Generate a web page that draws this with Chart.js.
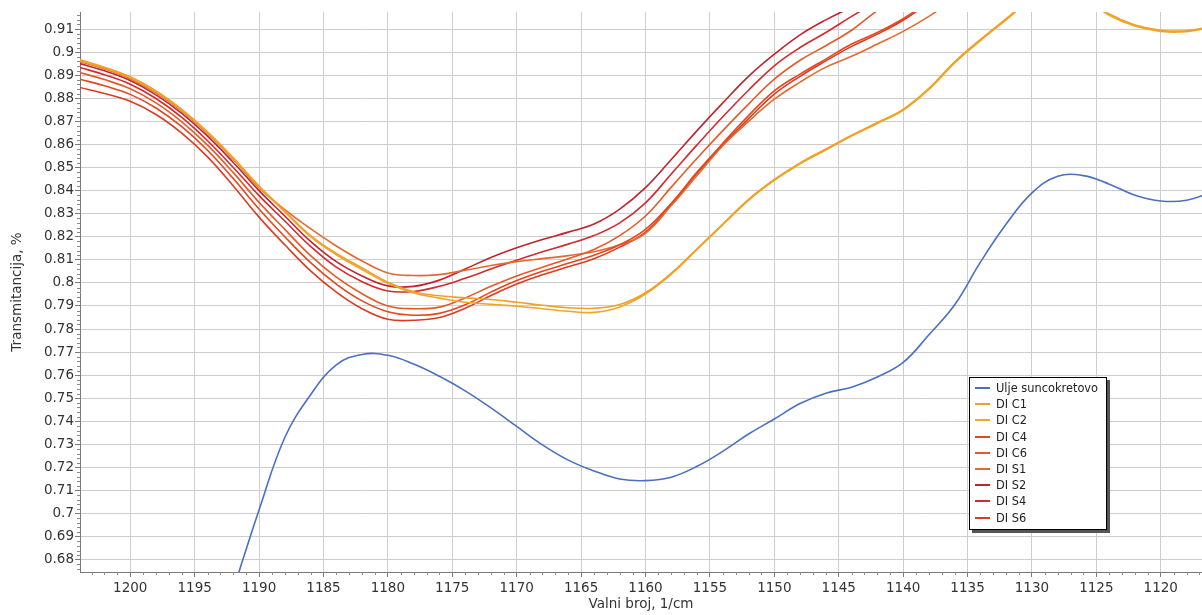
<!DOCTYPE html>
<html>
<head>
<meta charset="utf-8">
<script src="https://cdn.jsdelivr.net/npm/chart.js@4.4.1/dist/chart.umd.min.js"></script>
<style>
  html, body { margin: 0; padding: 0; background: #fff; }
  #wrap { position: relative; width: 1202px; height: 615px; }
  #legend {
    position: absolute; left: 969px; top: 377px; width: 136px;
    border: 1px solid #000; box-shadow: 3px 3px 0 #555; background: #fff;
    font: 11.4px "DejaVu Sans", sans-serif; color: #222; padding: 2px 0 3px 0;
  }
  #legend .item { height: 16.2px; display: flex; align-items: center; }
  #legend .sw { width: 15px; height: 2px; margin: 0 6px 0 5px; }
</style>
</head>
<body>
<div id="wrap">
  <canvas id="myChart" width="1202" height="615"></canvas>
  <div id="legend"></div>
</div>
<script>
// wavenumbers, 1/cm (x axis runs right to left)
var wavenumbers = [1204, 1202, 1200, 1198, 1196, 1194, 1192, 1190, 1188, 1186, 1184, 1182, 1180,
    1178, 1176, 1174, 1172, 1170, 1168, 1166, 1164, 1162, 1160, 1158, 1156, 1154, 1152, 1150,
    1148, 1146, 1144, 1142, 1140, 1138, 1136, 1134, 1132, 1130, 1128, 1126, 1124, 1122, 1120,
    1118, 1116];

var seriesNames = ['Ulje suncokretovo', 'DI C1', 'DI C2', 'DI C4', 'DI C6', 'DI S1', 'DI S2', 'DI S4', 'DI S6'];

var ulje = [null, null, null, null, null, 0.632, 0.667, 0.7016, 0.733, 0.7515, 0.7645, 0.769, 0.7686,
    0.7648, 0.7595, 0.7532, 0.7458, 0.7378, 0.7298, 0.7232, 0.7185, 0.715, 0.7143, 0.7158, 0.7205,
    0.727, 0.7345, 0.741, 0.7477, 0.7522, 0.7548, 0.7592, 0.7655, 0.7775, 0.7905, 0.809, 0.8255,
    0.839, 0.8462, 0.8465, 0.8428, 0.838, 0.8355, 0.8358, 0.8395];

var diC1 = [0.8968, 0.8935, 0.8893, 0.8832, 0.8752, 0.8655, 0.8542, 0.842, 0.8312, 0.8205, 0.8128,
    0.8065, 0.8003, 0.7962, 0.7944, 0.7935, 0.7928, 0.7916, 0.7903, 0.7892, 0.789, 0.7906, 0.7957,
    0.8042, 0.8148, 0.8255, 0.8362, 0.8448, 0.852, 0.858, 0.864, 0.8695, 0.8752, 0.8843, 0.8958,
    0.9055, 0.9145, 0.9235, 0.9285, 0.924, 0.9165, 0.9118, 0.9095, 0.9093, 0.9112];

var diC2 = [0.8964, 0.8931, 0.8889, 0.8828, 0.8748, 0.8651, 0.8538, 0.8416, 0.8308, 0.82, 0.8122,
    0.8058, 0.7998, 0.7956, 0.7934, 0.7916, 0.7907, 0.7899, 0.7888, 0.7877, 0.7872, 0.7896, 0.7952,
    0.8038, 0.8145, 0.8252, 0.8358, 0.8444, 0.8516, 0.8576, 0.8636, 0.8691, 0.8748, 0.8838, 0.8953,
    0.905, 0.914, 0.923, 0.928, 0.9235, 0.916, 0.9113, 0.909, 0.9089, 0.9108];

var diC4 = [0.8884, 0.8854, 0.8817, 0.8758, 0.8677, 0.8575, 0.8452, 0.832, 0.82, 0.8088, 0.7995,
    0.7922, 0.7875, 0.786, 0.7868, 0.7905, 0.796, 0.801, 0.805, 0.8085, 0.812, 0.8165, 0.8232,
    0.8345, 0.848, 0.8605, 0.8725, 0.8832, 0.8905, 0.897, 0.9035, 0.9085, 0.9145, 0.922];

var diC6 = [0.8913, 0.8881, 0.8841, 0.878, 0.8698, 0.8597, 0.8478, 0.8349, 0.8232, 0.8118, 0.8025,
    0.7953, 0.79, 0.7888, 0.7895, 0.7935, 0.7985, 0.803, 0.8068, 0.8105, 0.8145, 0.8205, 0.829,
    0.8415, 0.854, 0.866, 0.8775, 0.8883, 0.8965, 0.9028, 0.9095, 0.918, 0.925];

var diS1 = [0.896, 0.8927, 0.8885, 0.8824, 0.8744, 0.8647, 0.8535, 0.8412, 0.8318, 0.8235, 0.816,
    0.8095, 0.8043, 0.8032, 0.8036, 0.8055, 0.8075, 0.8092, 0.8105, 0.8118, 0.8135, 0.8165, 0.8215,
    0.8335, 0.8465, 0.8595, 0.87, 0.8796, 0.887, 0.8935, 0.8982, 0.9035, 0.909, 0.9155, 0.923, 0.93];

var diS2 = [0.8952, 0.8919, 0.8877, 0.8815, 0.8735, 0.8636, 0.8522, 0.84, 0.829, 0.818, 0.8092,
    0.803, 0.7987, 0.7985, 0.8012, 0.806, 0.811, 0.8152, 0.8188, 0.822, 0.8255, 0.832, 0.8413,
    0.8535, 0.866, 0.878, 0.8895, 0.8991, 0.9075, 0.914, 0.9195, 0.925];

var diS4 = [0.8935, 0.8902, 0.8861, 0.8799, 0.8717, 0.8616, 0.85, 0.8378, 0.8268, 0.8158, 0.8068,
    0.8005, 0.7965, 0.7963, 0.7985, 0.802, 0.806, 0.8098, 0.8135, 0.8168, 0.8205, 0.826, 0.8347,
    0.8472, 0.8598, 0.872, 0.8835, 0.8941, 0.902, 0.9085, 0.9155, 0.922];

var diS6 = [0.8848, 0.8821, 0.8787, 0.873, 0.8649, 0.8546, 0.842, 0.8285, 0.8165, 0.8052, 0.796,
    0.7888, 0.7842, 0.7838, 0.785, 0.789, 0.7945, 0.7995, 0.8035, 0.807, 0.8105, 0.8155, 0.822,
    0.834, 0.8475, 0.8598, 0.8712, 0.8818, 0.8895, 0.8962, 0.9025, 0.9078, 0.9138, 0.9215];

var seriesValues = [ulje, diC1, diC2, diC4, diC6, diS1, diS2, diS4, diS6];
var seriesColors = ['#4A70C0', '#F0A02A', '#F3A524', '#E5461C', '#E35A28', '#E5692F', '#BF2430', '#D22A2E', '#DC3B22'];

var FONT = '"DejaVu Sans", Verdana, sans-serif';

function toPoints(vals) {
    return vals.map(function(v, i) {
        return { x: wavenumbers[i], y: v };
    });
}

var datasets = seriesNames.map(function(name, i) {
    return {
        label: name,
        data: toPoints(seriesValues[i]),
        borderColor: seriesColors[i],
        backgroundColor: seriesColors[i],
        borderWidth: 1.6,
        pointRadius: 0,
        tension: 0.4,
        fill: false
    };
});

// small minor tick marks on both axes
var minorTicks = {
    id: 'minorTicks',
    afterDraw: function(chart) {
        var ctx = chart.ctx;
        var xs = chart.scales.x, ys = chart.scales.y;
        var area = chart.chartArea;
        ctx.save();
        ctx.strokeStyle = '#8a8a8a';
        ctx.lineWidth = 1;
        ctx.beginPath();
        for (var w = Math.ceil(xs.min); w <= Math.floor(xs.max); w++) {
            if (w % 5 === 0) continue;
            var px = Math.round(xs.getPixelForValue(w)) + 0.5;
            ctx.moveTo(px, area.bottom);
            ctx.lineTo(px, area.bottom + 3);
        }
        for (var k = Math.ceil(ys.min * 500); k <= Math.floor(ys.max * 500); k++) {
            if (k % 5 === 0) continue;
            var py = Math.round(ys.getPixelForValue(k / 500)) + 0.5;
            ctx.moveTo(area.left, py);
            ctx.lineTo(area.left - 3, py);
        }
        ctx.stroke();
        ctx.restore();
    }
};

var ctx = document.getElementById('myChart').getContext('2d');
var myChart = new Chart(ctx, {
    type: 'line',
    data: { datasets: datasets },
    plugins: [minorTicks],
    options: {
        responsive: false,
        animation: false,
        layout: { padding: { top: 12, right: 0, left: 0, bottom: 0 } },
        plugins: {
            legend: { display: false },
            tooltip: { enabled: false }
        },
        scales: {
            x: {
                type: 'linear',
                reverse: true,
                min: 1116.8,
                max: 1203.9,
                afterFit: function(scale) { scale.height = 43; },
                ticks: {
                    stepSize: 5,
                    includeBounds: false,
                    autoSkip: false,
                    maxRotation: 0,
                    padding: 3,
                    color: '#333',
                    font: { family: FONT, size: 13.5 },
                    callback: function(v) { return String(Math.round(v)); }
                },
                grid: { color: '#cdcdcd', tickColor: '#7a7a7a', tickLength: 5, lineWidth: 1 },
                border: { color: '#7a7a7a' },
                title: {
                    display: true,
                    text: 'Valni broj, 1/cm',
                    color: '#333',
                    font: { family: FONT, size: 13.5 },
                    padding: { top: 0, bottom: 2 }
                }
            },
            y: {
                min: 0.6747,
                max: 0.9174,
                afterFit: function(scale) { scale.width = 80; },
                ticks: {
                    stepSize: 0.01,
                    includeBounds: false,
                    autoSkip: false,
                    padding: 1,
                    color: '#333',
                    font: { family: FONT, size: 13.5 },
                    callback: function(v) { return String(Math.round(v * 100) / 100); }
                },
                grid: { color: '#cdcdcd', tickColor: '#7a7a7a', tickLength: 5, lineWidth: 1 },
                border: { color: '#7a7a7a' },
                title: {
                    display: true,
                    text: 'Transmitancija, %',
                    color: '#333',
                    font: { family: FONT, size: 13.5 },
                    padding: { top: 9, bottom: 0 }
                }
            }
        }
    }
});

// legend box drawn over the plot, built from the datasets
var legendEl = document.getElementById('legend');
myChart.data.datasets.forEach(function(ds) {
    var item = document.createElement('div');
    item.className = 'item';
    var sw = document.createElement('span');
    sw.className = 'sw';
    sw.style.background = ds.borderColor;
    var txt = document.createElement('span');
    txt.textContent = ds.label;
    item.appendChild(sw);
    item.appendChild(txt);
    legendEl.appendChild(item);
});
</script>
</body>
</html>
